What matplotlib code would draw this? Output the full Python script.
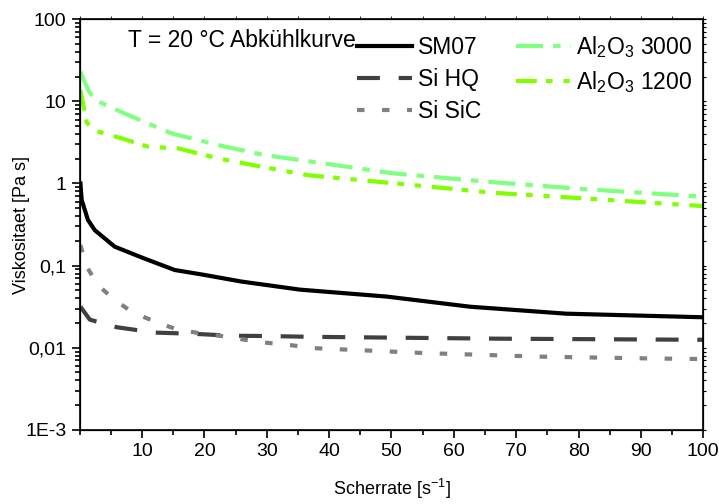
import matplotlib
matplotlib.use("Agg")
import matplotlib.pyplot as plt
from matplotlib.lines import Line2D
from matplotlib.ticker import LogLocator, MultipleLocator, NullFormatter

plt.rcParams['font.family'] = ['Liberation Sans', 'DejaVu Sans']

# data
sm07_x = [0.1, 0.3, 1.3, 2.4, 5.6, 10, 15.2, 20, 25.9, 35.3, 49.2, 62.6, 78, 100]
sm07_y = [1.0, 0.63, 0.36, 0.27, 0.17, 0.125, 0.0885, 0.077, 0.064, 0.051, 0.042, 0.0316, 0.026, 0.0235]

sihq_x = [0.1, 1.6, 5.9, 12, 18.2, 24.3, 30, 36.6, 67, 100]
sihq_y = [0.0316, 0.022, 0.0178, 0.0153, 0.0148, 0.014, 0.0139, 0.0136, 0.0129, 0.0125]

sisic_x = [0.1, 1.07, 2.9, 5.6, 8.6, 12, 15.5, 19.3, 22.7, 26.5, 30, 33.7, 37.4, 55.6, 73.8, 92, 100]
sisic_y = [0.178, 0.098, 0.058, 0.038, 0.0267, 0.0209, 0.0168, 0.015, 0.0139, 0.0125, 0.0115,
           0.0108, 0.0099, 0.0086, 0.0078, 0.0074, 0.0073]

al3000_x = [0.1, 1.33, 2.4, 7.2, 14.7, 22.2, 29.7, 37.2, 50.2, 65.3, 81.3, 100]
al3000_y = [23, 13.7, 10.4, 7.1, 4.07, 2.93, 2.21, 1.84, 1.33, 1.05, 0.85, 0.69]

al1200_x = [0.1, 1.07, 2.1, 6.7, 11, 15.8, 22.2, 29.1, 36.6, 50.8, 66.3, 83.4, 100]
al1200_y = [13.7, 5.6, 4.47, 3.54, 2.8, 2.67, 2.02, 1.6, 1.26, 1.0, 0.77, 0.64, 0.53]

ytick_vals = [1e-3, 1e-2, 1e-1, 1, 10, 100]
ytick_labels = ['1E-3', '0,01', '0,1', '1', '10', '100']

fig = plt.figure(figsize=(7.19, 5.04), dpi=100)
ax = fig.add_axes([0.111, 0.147, 0.867, 0.815])

lw = 3
ax.plot(sm07_x, sm07_y, color='black', lw=lw, label='SM07')
ax.plot(sihq_x, sihq_y, color='#404040', lw=lw, dashes=(5.5, 4.5), label='Si HQ')
ax.plot(sisic_x, sisic_y, color='#808080', lw=lw, dashes=(1.8, 4.2), label='Si SiC')
ax.plot(al3000_x, al3000_y, color='#80FF80', lw=lw, dashes=(6.5, 2.4, 1.8, 2.4),
        label=r'Al$\mathregular{_2}$O$\mathregular{_3}$ 3000')
ax.plot(al1200_x, al1200_y, color='#80FF00', lw=lw, dashes=(5, 2.2, 1.6, 2.6, 1.5, 2.6),
        label=r'Al$\mathregular{_2}$O$\mathregular{_3}$ 1200')

ax.set_yscale('log')
ax.set_xlim(0, 100)
ax.set_ylim(1e-3, 100)
ax.set_xticks(range(10, 101, 10))
ax.xaxis.set_minor_locator(MultipleLocator(5))
ax.set_yticks(ytick_vals)
ax.set_yticklabels(ytick_labels)
ax.yaxis.set_minor_locator(LogLocator(base=10, subs=range(2, 10)))
ax.yaxis.set_minor_formatter(NullFormatter())
ax.tick_params(which='both', direction='out', labelsize=14, width=1.2)
ax.tick_params(which='major', length=6)
ax.tick_params(which='minor', length=3.5)
for s in ax.spines.values():
    s.set_linewidth(1.2)

# small ticks on right and top
axr = ax.twinx()
axr.set_yscale('log')
axr.set_ylim(1e-3, 100)
axr.yaxis.set_minor_locator(LogLocator(base=10, subs=range(2, 10)))
axr.tick_params(which='both', direction='out', labelright=False, width=0.8, length=2.5)
axt = ax.twiny()
axt.set_xlim(0, 100)
axt.set_xticks(range(10, 101, 10))
axt.xaxis.set_minor_locator(MultipleLocator(5))
axt.tick_params(which='both', direction='out', labeltop=False, width=0.6, length=2)

ax.set_xlabel('Scherrate [s$\\mathregular{^{-1}}$]', fontsize=13)
ax.set_ylabel('Viskositaet [Pa s]', fontsize=13)
ax.xaxis.set_label_coords(0.5, -0.115)
ax.yaxis.set_label_coords(-0.08, 0.5)

blank = Line2D([], [], color='none')
h, l = ax.get_legend_handles_labels()
leg = ax.legend(h + [blank], l + [''], ncol=2, loc='upper left', bbox_to_anchor=(0.412, 1.015),
                frameon=False, fontsize=16.5, handlelength=2.4, handletextpad=0.25,
                columnspacing=1.5, labelspacing=0.4)
ax.text(0.442, 0.949, 'T = 20 °C Abkühlkurve', transform=ax.transAxes, fontsize=16.5,
        ha='right', va='center')

fig.savefig('out.png', dpi=100)
